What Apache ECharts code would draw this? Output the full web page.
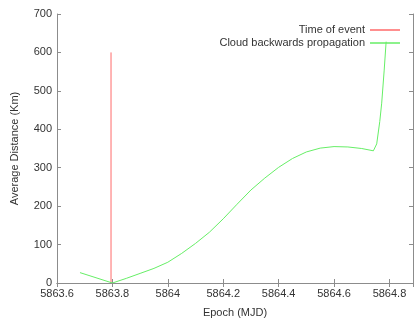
<!DOCTYPE html>
<html>
<head>
<meta charset="utf-8">
<script src="https://cdn.jsdelivr.net/npm/echarts@6/dist/echarts.min.js"></script>
<style>
  html, body { margin: 0; padding: 0; background: #fff; }
  #chart { width: 415px; height: 324px; }
</style>
</head>
<body>
<div id="chart"></div>
<script>
// Values
var eventEpoch = [5863.795, 5863.795]
var eventDistance = [0, 600]

var cloudEpoch = [5863.683, 5863.8, 5863.85, 5863.9, 5863.95, 5864.0, 5864.05, 5864.1,
  5864.15, 5864.2, 5864.25, 5864.3, 5864.35, 5864.4, 5864.45, 5864.5, 5864.55, 5864.6,
  5864.65, 5864.7, 5864.742, 5864.754, 5864.765, 5864.772, 5864.781, 5864.788]
var cloudDistance = [27, 0, 12, 25, 38, 54, 77, 103,
  132, 167, 205, 242, 273, 301, 324, 341, 351, 355,
  354, 350, 344, 362, 420, 468, 554, 628]

var seriesNames = ['Time of event', 'Cloud backwards propagation']

function pairs (xs, ys) {
  return xs.map(function (x, i) { return [x, ys[i]] })
}

var font = 'Liberation Sans'
var axisColor = '#8c8c8c'
var textColor = '#333'

var chart = echarts.init(document.getElementById('chart'), null, { renderer: 'canvas' })

var xBase = {
  type: 'value',
  min: 5863.6,
  max: 5864.885,
  interval: 0.2,
  axisLine: { lineStyle: { color: axisColor, width: 1 } },
  axisTick: { inside: true, length: 4, lineStyle: { color: axisColor } },
  splitLine: { show: false }
}
var yBase = {
  type: 'value',
  min: 0,
  max: 700,
  interval: 100,
  axisLine: { show: true, lineStyle: { color: axisColor, width: 1 } },
  axisTick: { show: true, inside: true, length: 4, lineStyle: { color: axisColor } },
  splitLine: { show: false }
}

chart.setOption({
  animation: false,
  grid: { left: 57, top: 14, right: 2, bottom: 41 },
  legend: {
    orient: 'vertical',
    right: 10,
    top: 19,
    align: 'right',
    itemWidth: 30,
    itemHeight: 1.5,
    itemGap: 1,
    icon: 'rect',
    textStyle: { fontFamily: font, fontSize: 11, color: textColor, lineHeight: 12 },
    data: seriesNames
  },
  xAxis: [
    Object.assign({}, xBase, {
      position: 'bottom',
      name: 'Epoch (MJD)',
      nameLocation: 'middle',
      nameGap: 24,
      nameTextStyle: { fontFamily: font, fontSize: 11, color: textColor },
      axisLabel: {
        margin: 5, showMaxLabel: false,
        fontFamily: font, fontSize: 11, color: textColor,
        formatter: function (v) { return String(+v.toFixed(1)) }
      }
    }),
    Object.assign({}, xBase, { position: 'top', axisLabel: { show: false } })
  ],
  yAxis: [
    Object.assign({}, yBase, {
      position: 'left',
      name: 'Average Distance (Km)',
      nameLocation: 'middle',
      nameGap: 37,
      nameTextStyle: { fontFamily: font, fontSize: 11, color: textColor },
      axisLabel: { margin: 5, fontFamily: font, fontSize: 11, color: textColor }
    }),
    Object.assign({}, yBase, { position: 'right', axisLabel: { show: false } })
  ],
  series: [
    {
      name: seriesNames[0],
      type: 'line',
      data: pairs(eventEpoch, eventDistance),
      showSymbol: false,
      itemStyle: { color: '#ff6a6a' },
      lineStyle: { color: '#ff6a6a', width: 1 }
    },
    {
      name: seriesNames[1],
      type: 'line',
      data: pairs(cloudEpoch, cloudDistance),
      showSymbol: false,
      smooth: false,
      itemStyle: { color: '#66ee66' },
      lineStyle: { color: '#66ee66', width: 1 }
    }
  ]
})
</script>
</body>
</html>
